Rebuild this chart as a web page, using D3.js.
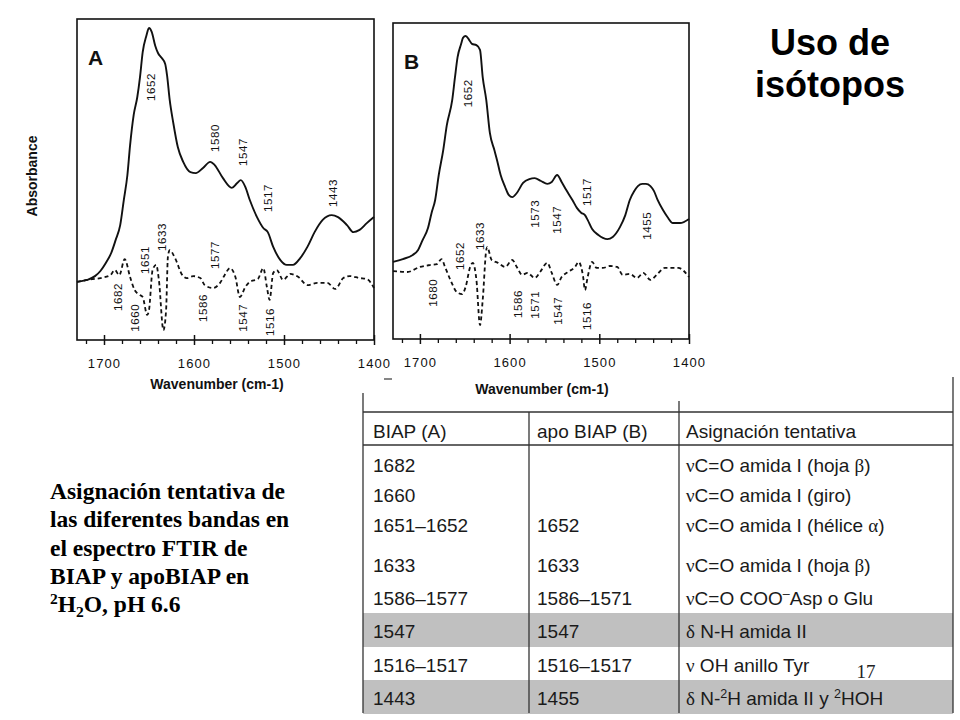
<!DOCTYPE html>
<html><head><meta charset="utf-8">
<script src="https://cdn.jsdelivr.net/npm/d3@7"></script>
<style>body{margin:0;background:#fff} text{white-space:pre}</style>
</head><body>
<svg id="c" width="960" height="720"></svg>
<script>
// ---------------- DATA ----------------
const tickLabels = [1700, 1600, 1500, 1400];
const minorTicks = [1720,1680,1660,1640,1620,1580,1560,1540,1520,1480,1460,1440,1420];

// Panel A (BIAP) solid: wavenumber / relative absorbance
const solidAWn  = [1730,1719,1710,1704,1698,1692,1687,1682,1678,1674,1671,1667,1663,1660,1657,1653,1650,1647,1643,1640,1636,1632,1630,1627,1623,1618,1612,1604,1598,1590,1582,1577,1568,1558,1552,1548,1543,1538,1530,1523,1518,1512,1504,1497,1490,1482,1474,1466,1457,1447,1440,1430,1423,1416,1408,1400];
const solidAAbs = [.181,.187,.199,.215,.240,.271,.312,.358,.436,.514,.607,.701,.757,.819,.897,.947,.972,.960,.916,.894,.879,.860,.826,.748,.676,.601,.555,.523,.520,.536,.555,.545,.505,.474,.489,.498,.477,.436,.383,.349,.336,.290,.249,.234,.234,.255,.290,.336,.374,.389,.383,.358,.336,.343,.364,.383];
// Panel A dashed (difference / second spectrum)
const dashAWn  = [1730,1719,1704,1693,1688,1683,1677,1671,1666,1660,1657,1652,1650,1646,1642,1639,1634,1631,1629,1627,1621,1613,1608,1601,1593,1588,1579,1571,1566,1560,1554,1549,1543,1538,1529,1523,1519,1516,1512,1508,1501,1493,1484,1474,1463,1452,1443,1434,1427,1416,1408,1400];
const dashAAbs = [.181,.187,.193,.202,.218,.202,.252,.196,.156,.140,.134,.078,.093,.218,.234,.187,.031,.093,.259,.280,.255,.202,.193,.199,.193,.171,.162,.178,.202,.224,.196,.134,.165,.181,.190,.224,.165,.125,.209,.218,.187,.206,.196,.171,.178,.178,.159,.193,.199,.193,.190,.162];

// Panel B (apoBIAP) solid
const solidBWn  = [1730,1719,1708,1702,1697,1691,1687,1683,1679,1674,1670,1664,1661,1658,1654,1652,1649,1645,1642,1637,1633,1630,1626,1622,1617,1614,1610,1605,1601,1597,1592,1585,1578,1572,1565,1558,1553,1547,1542,1537,1530,1525,1520,1516,1513,1508,1501,1496,1491,1485,1477,1471,1466,1461,1457,1452,1448,1443,1439,1435,1429,1424,1418,1410,1400];
const solidBAbs = [.244,.253,.266,.282,.313,.351,.399,.440,.519,.598,.677,.756,.826,.892,.934,.953,.959,.946,.934,.930,.915,.829,.756,.652,.598,.566,.519,.481,.456,.449,.462,.494,.506,.509,.500,.491,.497,.519,.497,.472,.440,.415,.399,.392,.377,.348,.329,.320,.316,.323,.354,.392,.440,.468,.484,.491,.491,.484,.468,.440,.408,.386,.367,.367,.380];
// Panel B dashed
const dashBWn  = [1730,1714,1700,1689,1681,1676,1672,1666,1659,1653,1649,1644,1641,1637,1633,1630,1626,1625,1620,1613,1605,1597,1592,1586,1580,1572,1566,1558,1553,1547,1542,1535,1527,1523,1518,1516,1513,1508,1503,1496,1488,1480,1474,1466,1458,1451,1443,1436,1427,1419,1412,1400];
const dashBAbs = [.215,.212,.228,.234,.237,.253,.228,.187,.149,.142,.165,.228,.241,.187,.044,.123,.282,.291,.250,.241,.228,.250,.228,.203,.209,.193,.212,.241,.209,.171,.196,.212,.228,.244,.196,.155,.196,.244,.225,.225,.231,.228,.203,.206,.193,.209,.187,.203,.225,.225,.225,.196];

// Band annotations: [label, wavenumber, absorbance level]
const peakLabelsA = [["1652",1648,.788],["1580",1577,.629],["1547",1546,.586],["1517",1518,.442],["1443",1446,.458],
  ["1682",1684,.134],["1660",1666,.069],["1651",1654,.249],["1633",1636,.321],["1577",1577,.265],["1586",1590,.100],["1547",1546,.069],["1516",1516,.056]];
const peakLabelsB = [["1652",1646,.778],["1573",1572,.396],["1547",1547,.377],["1517",1514,.465],["1455",1447,.358],
  ["1680",1685,.146],["1652",1655,.263],["1633",1633,.326],["1586",1591,.111],["1571",1572,.108],["1547",1546,.089],["1516",1514,.073]];

// Table
const tableHeader = ["BIAP (A)", "apo BIAP (B)", "Asignación tentativa"];
const colBIAP = ["1682","1660","1651–1652","1633","1586–1577","1547","1516–1517","1443"];
const colApo  = ["","","1652","1633","1586–1571","1547","1516–1517","1455"];
const colAsig = ["νC=O amida I (hoja β)","νC=O amida I (giro)","νC=O amida I (hélice α)","νC=O amida I (hoja β)",
  "νC=O COO^–^Asp o Glu","δ N-H amida II","ν OH anillo Tyr","δ N-^2^H amida II y ^2^HOH"];
const shadedRows = [5, 7];

const titleLines = ["Uso de", "isótopos"];
const captionLines = ["Asignación tentativa de","las diferentes bandas en","el espectro FTIR de","BIAP y apoBIAP en","^2^H_2_O, pH 6.6"];
const pageNumber = "17";

// ---------------- DRAWING ----------------
const svg = d3.select("#c");
const SANS = "'Liberation Sans', Arial, Helvetica, sans-serif";
const SERIF = "'Liberation Serif', 'Times New Roman', serif";
const INK = "#111";

function addRich(textSel, str, fs, greekFont) {
  const parts = str.split(/(\^[^^]*\^|_[^_]*_)/).filter(s => s.length);
  let shift = 0;
  parts.forEach(p => {
    let mode = 'n', t = p;
    if (p.length > 1 && p[0] === '^' && p[p.length-1] === '^') { mode = 'sup'; t = p.slice(1,-1); }
    else if (p.length > 1 && p[0] === '_' && p[p.length-1] === '_') { mode = 'sub'; t = p.slice(1,-1); }
    const target = mode === 'sup' ? -0.36*fs : mode === 'sub' ? 0.22*fs : 0;
    const dy = target - shift; shift = target;
    const segs = t.split(/([α-ω]+)/).filter(s => s.length);
    segs.forEach((s, i) => {
      const ts = textSel.append("tspan").text(s);
      if (i === 0 && dy !== 0) ts.attr("dy", dy);
      if (mode !== 'n') ts.attr("font-size", fs*0.66);
      if (greekFont && /[α-ω]/.test(s)) ts.attr("font-family", greekFont);
    });
  });
}

function panel(o) {
  const g = svg.append("g");
  const x = d3.scaleLinear().domain([1730, 1400]).range([o.x0, o.x1]);
  const y = d3.scaleLinear().domain([0, 1]).range([o.y1, o.y0]);

  g.append("rect").attr("x", o.x0).attr("y", o.y0).attr("width", o.x1 - o.x0).attr("height", o.y1 - o.y0)
    .attr("fill", "none").attr("stroke", INK).attr("stroke-width", 1.6);

  const minor = g.append("g").attr("transform", `translate(0,${o.y1})`)
    .call(d3.axisBottom(x).tickValues(minorTicks).tickSize(4).tickFormat(""));
  minor.select(".domain").remove();
  minor.selectAll(".tick line").attr("stroke", INK).attr("stroke-width", 1.3);
  const major = g.append("g").attr("transform", `translate(0,${o.y1})`)
    .call(d3.axisBottom(x).tickValues(tickLabels).tickSize(5).tickFormat(d3.format("d")));
  major.select(".domain").remove();
  major.selectAll(".tick line").attr("y1", -5).attr("stroke", INK).attr("stroke-width", 1.5);
  major.selectAll(".tick text").attr("y", 19).attr("dy", "0.71em")
    .attr("font-family", SANS).attr("font-size", 13).attr("letter-spacing", 1.1).attr("fill", INK);

  const line = (wn, ab) => d3.line().x((d, i) => x(wn[i])).y((d, i) => y(ab[i])).curve(d3.curveMonotoneX)(wn);
  g.append("path").attr("d", line(o.sWn, o.sAb)).attr("fill", "none").attr("stroke", INK).attr("stroke-width", 1.9);
  g.append("path").attr("d", line(o.dWn, o.dAb)).attr("fill", "none").attr("stroke", INK).attr("stroke-width", 1.8)
    .attr("stroke-dasharray", "4,3");

  o.labels.forEach(([t, wn, a]) => {
    g.append("text").attr("transform", `translate(${x(wn)},${y(a)}) rotate(-90)`)
      .attr("text-anchor", "middle").attr("dominant-baseline", "central")
      .attr("font-family", SANS).attr("font-size", 11.5).attr("letter-spacing", 0.6).attr("fill", INK).text(t);
  });

  g.append("text").attr("x", o.x0 + 11).attr("y", o.y0 + 46).attr("font-family", SANS).attr("font-weight", "bold")
    .attr("font-size", 21).attr("fill", INK).text(o.letter);

  g.append("text").attr("x", o.titleX).attr("y", o.titleY).attr("text-anchor", "middle")
    .attr("font-family", SANS).attr("font-weight", "bold").attr("font-size", 14).attr("fill", INK)
    .text("Wavenumber (cm-1)");
  if (o.yLabel) {
    g.append("text").attr("transform", `translate(${o.x0 - 45},176) rotate(-90)`)
      .attr("text-anchor", "middle").attr("dominant-baseline", "central")
      .attr("font-family", SANS).attr("font-weight", "bold").attr("font-size", 14).attr("fill", INK)
      .text("Absorbance");
  }
}

panel({x0: 77, x1: 374, y0: 19, y1: 340, sWn: solidAWn, sAb: solidAAbs, dWn: dashAWn, dAb: dashAAbs,
  labels: peakLabelsA, letter: "A", titleX: 217, titleY: 389, yLabel: true});
panel({x0: 393, x1: 689, y0: 23, y1: 339, sWn: solidBWn, sAb: solidBAbs, dWn: dashBWn, dAb: dashBAbs,
  labels: peakLabelsB, letter: "B", titleX: 542, titleY: 394, yLabel: false});

svg.append("line").attr("x1", 384).attr("x2", 392).attr("y1", 379).attr("y2", 379).attr("stroke", "#444").attr("stroke-width", 1.3);

// ---------------- TABLE ----------------
const FS = 19;
const colX = [363, 529, 679, 953];
const textX = [373, 537, 686];
const rowBase = [472, 502, 532, 572, 605, 638, 672, 705];
const tb = svg.append("g");
shadedRows.forEach(r => {
  tb.append("rect").attr("x", colX[0]).attr("width", colX[3] - colX[0]).attr("y", rowBase[r] - 25).attr("height", 34)
    .attr("fill", "#c0c0c0");
});
[[colX[0], 393], [colX[1], 412], [colX[2], 401], [colX[3], 377]].forEach(([cx, top]) => {
  tb.append("line").attr("x1", cx).attr("x2", cx).attr("y1", top).attr("y2", 713).attr("stroke", "#333").attr("stroke-width", 1.3);
});
[412, 445].forEach(hy => tb.append("line").attr("x1", colX[0]).attr("x2", colX[3]).attr("y1", hy).attr("y2", hy)
  .attr("stroke", "#333").attr("stroke-width", 1.3));
tableHeader.forEach((h, i) => tb.append("text").attr("x", textX[i]).attr("y", 438).attr("font-family", SANS)
  .attr("font-size", FS).attr("fill", "#1a1a1a").text(h));
colBIAP.forEach((v, r) => {
  tb.append("text").attr("x", textX[0]).attr("y", rowBase[r]).attr("font-family", SANS).attr("font-size", FS).attr("fill", "#1a1a1a").text(v);
  tb.append("text").attr("x", textX[1]).attr("y", rowBase[r]).attr("font-family", SANS).attr("font-size", FS).attr("fill", "#1a1a1a").text(colApo[r]);
  const t = tb.append("text").attr("x", textX[2]).attr("y", rowBase[r]).attr("font-family", SANS).attr("font-size", FS).attr("fill", "#1a1a1a");
  addRich(t, colAsig[r], FS, SERIF);
});

// ---------------- TITLE / CAPTION ----------------
titleLines.forEach((l, i) => svg.append("text").attr("x", 830).attr("y", 55 + 42*i).attr("text-anchor", "middle")
  .attr("font-family", SANS).attr("font-weight", "bold").attr("font-size", 36).attr("fill", "#000").text(l));

captionLines.forEach((l, i) => {
  const t = svg.append("text").attr("x", 50).attr("y", 499 + 28.3*i).attr("font-family", SERIF)
    .attr("font-weight", "bold").attr("font-size", 23.5).attr("fill", "#000");
  addRich(t, l, 23.5, null);
});

svg.append("text").attr("x", 866).attr("y", 678).attr("text-anchor", "middle").attr("font-family", SERIF)
  .attr("font-size", 19).attr("fill", "#222").text(pageNumber);
</script>
</body></html>
